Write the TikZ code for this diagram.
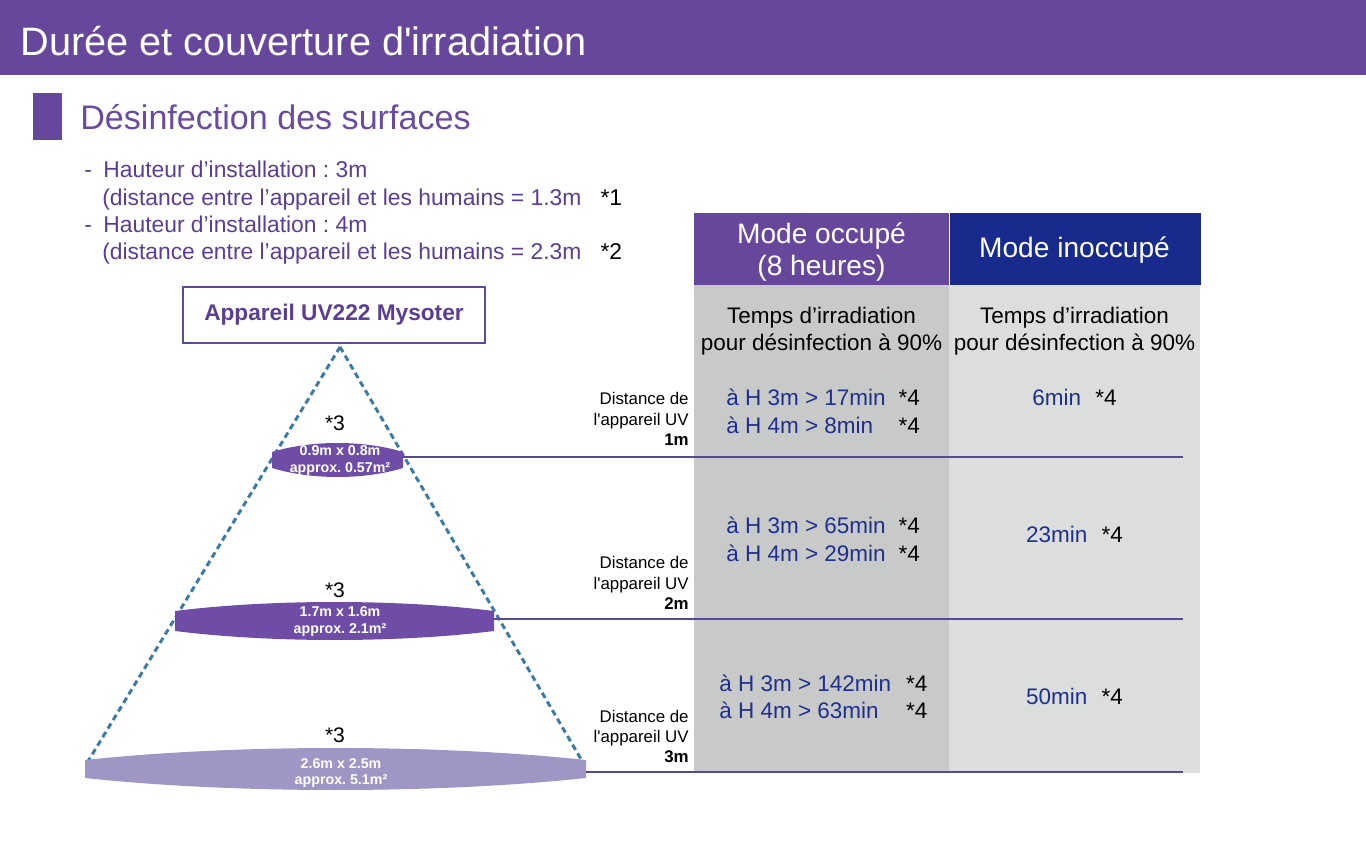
\documentclass[tikz,border=0pt]{standalone}
\usepackage{fontspec}
\setmainfont{Liberation Sans}[Ligatures=TeXOff]
\usepackage{xcolor}
\usetikzlibrary{positioning,calc}
\definecolor{uvpurple}{HTML}{67479B}
\definecolor{uvtitle}{HTML}{6A4C9E}
\definecolor{uvtext}{HTML}{5B3E92}
\definecolor{uvframe}{HTML}{5E4B94}
\definecolor{uvnavy}{HTML}{182B8C}
\definecolor{uvink}{HTML}{1F2F8C}
\definecolor{uvgray}{HTML}{C8C9C9}
\definecolor{uvlight}{HTML}{DCDDDD}
\definecolor{uvline}{HTML}{55499A}
\definecolor{uvbeam}{HTML}{3C7BA5}
\definecolor{uvspot}{HTML}{6F4DA6}
\definecolor{uvlilac}{HTML}{A096C5}
\frenchspacing

\begin{document}
\begin{tikzpicture}[
  x=0.02cm, y=-0.02cm,
  headtxt/.style={font=\fontsize{22.6}{27}\selectfont, text=white, inner sep=0pt, anchor=base west},
  subtxt/.style={font=\fontsize{19.4}{23}\selectfont, text=uvtitle, inner sep=0pt, anchor=base west},
  notetxt/.style={font=\fontsize{13}{15.5}\selectfont, text=uvtext, inner sep=0pt, anchor=base west},
  devbox/.style={draw=uvframe, line width=1.2pt, fill=white, minimum width=6.04cm, minimum height=1.12cm, font=\bfseries\fontsize{12.9}{15}\selectfont, text=uvtext},
  beam/.style={uvbeam, line width=1.7pt, dash pattern=on 3.4pt off 2.3pt},
  spottxt/.style={font=\bfseries\fontsize{8.1}{9.6}\selectfont, text=white, inner sep=0pt, anchor=base},
  startxt/.style={font=\fontsize{12}{14}\selectfont, inner sep=0pt, anchor=base},
  level/.style={uvline, line width=1.5pt},
  headcell/.style={minimum width=5.1cm, minimum height=1.44cm, inner sep=0pt},
  headlbl/.style={font=\fontsize{16}{18.1}\selectfont, text=white, inner sep=0pt, anchor=base},
  colsub/.style={font=\fontsize{12.8}{15.3}\selectfont, inner sep=0pt, anchor=base},
  cell/.style={font=\fontsize{12.8}{15.9}\selectfont, text=uvink, inner sep=0pt, anchor=base west},
  dist/.style={font=\fontsize{9.6}{11.6}\selectfont, inner sep=0pt, anchor=base east}
]
\useasboundingbox (0,0) rectangle (1366,847);

% title bar
\fill[uvpurple] (0,0) rectangle (1366,75);
\node[headtxt] (title) at (20,56) {Durée et couverture d'irradiation};

% section heading
\fill[uvpurple] (33,93) rectangle (62,140);
\node[subtxt] (section) at (80,130) {Désinfection des surfaces};

\node[notetxt] (notes) at (84,178) {\begin{tabular}[t]{@{}l@{\hspace{10.8pt}}l@{}}
-\hspace{6.5pt}Hauteur d’installation : 3m & \\
\hspace{10.2pt}(distance entre l’appareil et les humains = 1.3m & \textcolor{black}{*1}\\
-\hspace{6.5pt}Hauteur d’installation : 4m & \\
\hspace{10.2pt}(distance entre l’appareil et les humains = 2.3m & \textcolor{black}{*2}
\end{tabular}};

% table backgrounds
\node[headcell, fill=uvpurple] (occ) at (821.5,249) {};
\node[headcell, fill=uvnavy, minimum width=5.02cm, right=0pt of occ] (unocc) {};
\fill[uvgray] (occ.south west) rectangle (949,772);
\fill[uvlight] (unocc.south west) rectangle (1200,773);
\node[headlbl] (occtxt) at (821.5,244) {\begin{tabular}[t]{@{}c@{}}Mode occupé\\(8 heures)\end{tabular}};
\node[headlbl] (unocctxt) at (1074.5,258) {Mode inoccupé};

% device and beam
\node[devbox] (device) at (334,315) {Appareil UV222 Mysoter};
\coordinate (apex) at (340,347);
\coordinate (beamL) at (87,763);
\coordinate (beamR) at (585,766);
\draw[beam] (apex) -- (beamL);
\draw[beam] (apex) -- (beamR);

% irradiated spots
\fill[uvspot] (272,452) .. controls (311,440) and (364,440) .. (403,452)
  -- (403,468) .. controls (364,480) and (311,480) .. (272,468) -- cycle;
\fill[uvspot] (175,611) .. controls (271,599) and (398,599) .. (494,611)
  -- (494,631) .. controls (398,643) and (271,643) .. (175,631) -- cycle;
\fill[uvlilac] (85,760) .. controls (235,744) and (436,744) .. (586,760)
  -- (586,778) .. controls (436,794) and (235,794) .. (85,778) -- cycle;

\node[spottxt] (spot1) at (340,456) {\begin{tabular}[t]{@{}c@{}}0.9m x 0.8m\\approx. 0.57m²\end{tabular}};
\node[spottxt] (spot2) at (340,617) {\begin{tabular}[t]{@{}c@{}}1.7m x 1.6m\\approx. 2.1m²\end{tabular}};
\node[spottxt] (spot3) at (341,768) {\begin{tabular}[t]{@{}c@{}}2.6m x 2.5m\\approx. 5.1m²\end{tabular}};
\node[startxt] (star1) at (335,431) {*3};
\node[startxt] (star2) at (335,598) {*3};
\node[startxt] (star3) at (335,742) {*3};

% distance levels
\coordinate (lv1) at (403,457);
\coordinate (lv2) at (494,619);
\coordinate (lv3) at (586,772);
\coordinate (lv1e) at (1183,457);
\coordinate (lv2e) at (1183,619);
\coordinate (lv3e) at (1183,772);
\draw[level] (lv1) -- (lv1e);
\draw[level] (lv2) -- (lv2e);
\draw[level] (lv3) -- (lv3e);

\node[dist] (d1) at (689,405) {\begin{tabular}[t]{@{}r@{}}Distance de\\l'appareil UV\\\textbf{1m}\end{tabular}};
\node[dist] (d2) at (689,569) {\begin{tabular}[t]{@{}r@{}}Distance de\\l'appareil UV\\\textbf{2m}\end{tabular}};
\node[dist] (d3) at (689,722) {\begin{tabular}[t]{@{}r@{}}Distance de\\l'appareil UV\\\textbf{3m}\end{tabular}};

% table texts
\node[colsub] (subocc) at (821.5,324) {\begin{tabular}[t]{@{}c@{}}Temps d’irradiation\\pour désinfection à 90\%\end{tabular}};
\node[colsub] (subunocc) at (1074.5,324) {\begin{tabular}[t]{@{}c@{}}Temps d’irradiation\\pour désinfection à 90\%\end{tabular}};

\node[cell] (r1occ) at (726,406) {\begin{tabular}[t]{@{}l@{\hspace{7.4pt}}l@{}}à H 3m > 17min & \textcolor{black}{*4}\\à H 4m > 8min & \textcolor{black}{*4}\end{tabular}};
\node[cell] (r2occ) at (726,534) {\begin{tabular}[t]{@{}l@{\hspace{7.4pt}}l@{}}à H 3m > 65min & \textcolor{black}{*4}\\à H 4m > 29min & \textcolor{black}{*4}\end{tabular}};
\node[cell] (r3occ) at (719,691) {\begin{tabular}[t]{@{}l@{\hspace{8.5pt}}l@{}}à H 3m > 142min & \textcolor{black}{*4}\\à H 4m > 63min & \textcolor{black}{*4}\end{tabular}};

\node[cell, anchor=base] (r1un) at (1074.5,406) {6min\hspace{8pt}\textcolor{black}{*4}};
\node[cell, anchor=base] (r2un) at (1074.5,543) {23min\hspace{8pt}\textcolor{black}{*4}};
\node[cell, anchor=base] (r3un) at (1074.5,704) {50min\hspace{8pt}\textcolor{black}{*4}};
\end{tikzpicture}
\end{document}
